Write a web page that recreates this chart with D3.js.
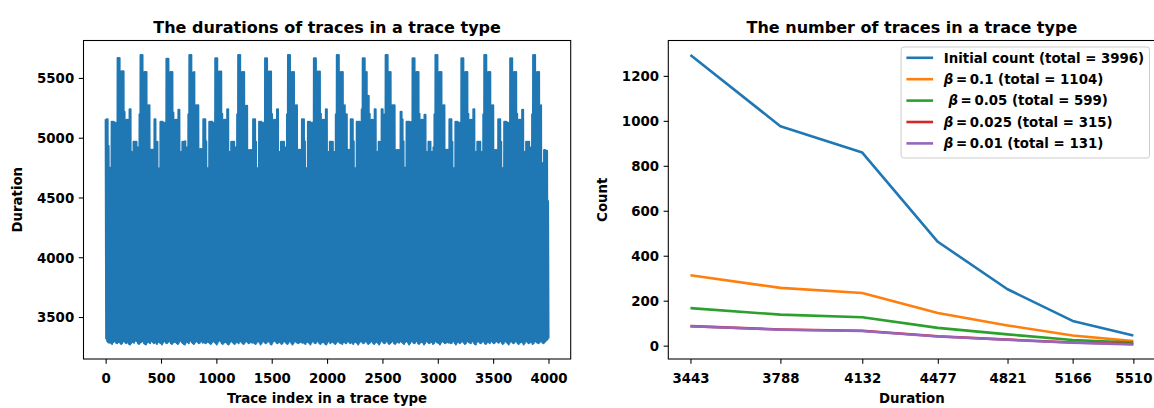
<!DOCTYPE html>
<html><head><meta charset="utf-8">
<script src="https://cdn.jsdelivr.net/npm/d3@7"></script>
<style>
body{margin:0;background:#fff;}
svg text{font-family:"DejaVu Sans";font-weight:bold;fill:#000;font-size:13.33px;}
</style></head><body>
<svg id="c" width="1154" height="408"></svg>
<script>
// ---------- Left chart: per-sample (every 9 traces) upper and lower durations ----------
const traceStep = 9;
const durationTops = [
5155,5155,5155,4933,4750,4747,5133,5133,5133,5128,5016,5128,5667,5667,5667,5350,5556,5556,5556,5217,4480,
5150,5150,5150,5239,5239,4883,4883,4966,4966,4966,4966,4920,4920,5197,5692,5692,5692,5272,5550,5550,5550,5272,5272,5272,4789,4900,4900,4900,
5155,5155,4967,4967,4745,4745,5133,5133,5133,5128,5016,5128,5661,5661,5661,5350,5550,5550,5550,5211,4470,
5150,5150,5150,5233,5233,4883,4883,4966,4966,4966,4970,4920,4920,5197,5692,5692,5692,5545,5545,5550,5272,5272,5272,5272,4789,4906,4906,4906,
5155,5155,5155,4970,4747,4747,5133,5133,5133,5133,5016,5128,5664,5664,5664,5350,5553,5553,5553,5200,4490,
5150,5150,5150,5239,5239,4883,4883,4967,4967,4967,4967,4920,4920,5197,5692,5692,5692,5272,5550,5550,5550,5267,5267,5267,4789,4897,4897,4897,4897,
5155,5155,5155,4967,4747,4747,5133,5133,5133,5128,5016,5128,5664,5664,5664,5350,5553,5553,5553,5198,4480,
5150,5150,5150,5239,5239,4883,4883,4967,4967,4967,4967,4920,4920,5197,5692,5692,5692,5272,5550,5550,5550,5272,5272,5272,4789,4900,4900,4900,
5155,5155,5155,4970,4747,4747,5133,5133,5133,5128,5016,5128,5664,5664,5664,5350,5553,5553,5553,5200,4480,
5150,5150,5150,5239,5239,4883,4883,4966,4966,4966,4966,4883,4883,5197,5692,5692,5692,5272,5550,5550,5550,5272,5272,5197,5197,4900,4900,4900,
5155,5155,5155,4970,4747,4747,5133,5133,5133,5133,5016,5239,5664,5664,5664,5550,5550,5350,5350,5200,4470,
5150,5150,5150,5239,5239,4883,4883,4967,4967,4967,5239,5239,4920,5197,5692,5692,5692,5550,5550,5550,5272,5272,5272,5272,4789,4897,4897,4897,4897,
5217,5217,5155,4970,4750,4750,5133,5133,5133,5133,5016,5133,5664,5664,5664,5350,5550,5550,5550,5200,4480,
5150,5150,5150,5192,5192,4883,4883,4967,4967,4967,4883,4883,4920,5197,5692,5692,5692,5272,5550,5550,5550,5272,5272,5272,4789,4900,4900,4900,
5155,5155,5155,4967,4747,4747,5133,5133,5133,5128,5016,5128,5664,5664,5664,5350,5550,5550,5550,5200,4480,
5150,5150,5150,5239,5239,4883,4883,4967,4967,4967,4967,4883,4883,5197,5692,5692,5692,5272,5550,5550,5550,5272,5272,5272,4789,4897,4897,4897,
5155,5155,5155,4967,4747,4747,5133,5133,5133,5128,5016,5128,5664,5664,5664,5350,5550,5550,5550,5200,4480,
5150,5150,5150,5233,5233,4883,4883,4966,4966,4966,4966,4883,4920,5197,5692,5692,5692,5272,5550,5550,5550,5272,5272,4789,4789,4897,4897,4890,4890,
4470
];
const durationLows = [
3320,3300,3290,3285,3295,3280,3275,3290,3305,3295,3285,3280,3290,3300,3285,3275,3280,3295,3310,3290,3280,3300,3285,3275,3270,3280,3295,3290,3285,3300,3310,3295,3280,3275,3285,3290,3305,3295,3280,3275,3270,3285,3300,3290,3280,3295,3310,3290,3280,
3290,3285,3275,3290,3300,3285,3280,3270,3285,3300,3295,3285,3280,3290,3310,3295,3280,3275,3285,3290,3300,3290,3280,3275,3285,3300,3310,3290,3280,3275,3270,3285,3295,3290,3280,3300,3305,3290,3280,3275,3285,3295,3300,3290,3280,3285,3305,3295,3285,
3295,3285,3280,3290,3305,3290,3280,3275,3285,3295,3300,3290,3280,3270,3285,3300,3310,3295,3280,3275,3285,3290,3300,3285,3275,3270,3285,3295,3305,3290,3280,3275,3285,3300,3290,3280,3295,3310,3290,3280,3275,3285,3295,3300,3290,3280,3285,3300,3290,3285,
3290,3280,3275,3285,3300,3295,3285,3270,3280,3295,3305,3290,3280,3285,3295,3300,3290,3275,3270,3285,3300,3310,3295,3285,3280,3290,3300,3285,3275,3280,3295,3305,3290,3280,3275,3285,3300,3295,3280,3270,3280,3295,3310,3290,3285,3280,3290,3300,3290,
3285,3295,3280,3275,3290,3305,3290,3280,3270,3285,3300,3295,3285,3280,3290,3310,3295,3280,3275,3285,3290,3300,3285,3275,3270,3285,3300,3295,3280,3290,3305,3290,3280,3275,3285,3295,3310,3290,3280,3285,3275,3290,3300,3285,3280,3295,3305,3290,3280,
3295,3285,3275,3290,3300,3290,3280,3270,3285,3295,3310,3290,3280,3285,3295,3300,3285,3275,3280,3290,3305,3295,3280,3275,3285,3300,3290,3280,3270,3285,3300,3310,3290,3280,3285,3295,3300,3285,3275,3280,3290,3305,3295,3280,3275,3285,3300,3290,3285,3295,
3300,3290,3280,3275,3290,3305,3295,3285,3270,3280,3295,3300,3290,3280,3285,3310,3295,3280,3275,3285,3290,3300,3285,3270,3280,3295,3305,3290,3280,3285,3300,3290,3275,3280,3295,3310,3290,3285,3280,3270,3285,3295,3300,3290,3280,3285,3305,3290,3285,
3290,3280,3285,3300,3295,3280,3270,3285,3300,3290,3280,3290,3305,3295,3285,3275,3280,3295,3310,3290,3285,3280,3295,3300,3285,3275,3270,3290,3300,3295,3285,3280,3290,3305,3295,3280,3275,3285,3300,3290,3280,3295,3310,3290,3280,3285,3295,3300,3290,
3285,3295,3300,3285,3275,3280,3295,3305,3290,3280,3270,3285,3300,3295,3285,3280,3290,3310,3295,3280,3275,3285,3290,3300,3285,3270,3280,3295,3305,3290,3280,3285,3300,3290,3275,3280,3295,3310,3290,3285,3280,3290,3300,3295,3285,3280,3290,3300,3305,3315,
3320
];
const leftXTicks = [0,500,1000,1500,2000,2500,3000,3500,4000];
const leftYTicks = [3500,4000,4500,5000,5500];

// ---------- Right chart ----------
const durationBins = [3443, 3788, 4132, 4477, 4821, 5166, 5510];
const initialCount = [1293, 976, 859, 462, 251, 110, 45];
const beta01Count  = [313, 257, 234, 145, 90, 45, 20];
const beta005Count = [167, 138, 126, 79, 50, 25, 14];
const beta0025Count= [87, 72, 66, 42, 27, 14, 7];
const beta001Count = [86, 71, 65, 41, 26, 13, 5];
const rightYTicks = [0,200,400,600,800,1000,1200];
const seriesLabels = [
  {pre:"", text:"Initial count (total = 3996)"},
  {pre:"", beta:"0.1", text:" (total = 1104)"},
  {pre:" ", beta:"0.05", text:" (total = 599)"},
  {pre:"", beta:"0.025", text:" (total = 315)"},
  {pre:"", beta:"0.01", text:" (total = 131)"}
];
const seriesColors = ["#1f77b4","#ff7f0e","#2ca02c","#d62728","#9467bd"];
const seriesValues = [initialCount, beta01Count, beta005Count, beta0025Count, beta001Count];

// ---------- layout ----------
const svg = d3.select("#c");
const top0 = 40.5, bot0 = 359;
const L = {x0:83.5, x1:570.7};
const R = {x0:668.3, x1:1155.5};
const tickLen = 4.67, tickPad = 4.67;

function frame(p){
  svg.append("rect").attr("x",p.x0).attr("y",top0).attr("width",p.x1-p.x0).attr("height",bot0-top0)
    .attr("fill","none").attr("stroke","#000").attr("stroke-width",1.07);
}
function styleAxis(g){
  g.attr("font-family",null).attr("font-size",null);
  g.select(".domain").remove();
  g.selectAll(".tick line").attr("stroke","#000").attr("stroke-width",1.07);
}

// ---------- left chart ----------
const n = Math.min(durationTops.length, durationLows.length);
const pts = [];
for(let k=0;k<n;k++){
  pts.push([k*traceStep, durationTops[k]]);
  pts.push([k*traceStep+traceStep/2, durationLows[k]]);
}
const xe = d3.extent(pts, d=>d[0]), ye = d3.extent(pts, d=>d[1]);
const xp = (xe[1]-xe[0])*0.05, yp = (ye[1]-ye[0])*0.05;
const xL = d3.scaleLinear().domain([xe[0]-xp, xe[1]+xp]).range([L.x0, L.x1]);
const yL = d3.scaleLinear().domain([ye[0]-yp, ye[1]+yp]).range([bot0, top0]);

svg.append("path").datum(pts)
  .attr("d", d3.line().x(d=>xL(d[0])).y(d=>yL(d[1])))
  .attr("fill","none").attr("stroke","#1f77b4").attr("stroke-width",2).attr("stroke-linejoin","round");

frame(L);
const gxL = svg.append("g").attr("transform",`translate(0,${bot0})`)
  .call(d3.axisBottom(xL).tickValues(leftXTicks).tickFormat(d3.format("d")).tickSize(tickLen).tickPadding(tickPad).tickSizeOuter(0));
styleAxis(gxL);
gxL.selectAll(".tick text").attr("y",24).attr("dy",0);
const gyL = svg.append("g").attr("transform",`translate(${L.x0},0)`)
  .call(d3.axisLeft(yL).tickValues(leftYTicks).tickFormat(d3.format("d")).tickSize(tickLen).tickPadding(tickPad).tickSizeOuter(0));
styleAxis(gyL);
gyL.selectAll(".tick text").attr("dy","0.36em");

svg.append("text").attr("x",(L.x0+L.x1)/2).attr("y",32.5).attr("text-anchor","middle").style("font-size","16px")
  .text("The durations of traces in a trace type");
svg.append("text").attr("x",(L.x0+L.x1)/2).attr("y",403).attr("text-anchor","middle")
  .text("Trace index in a trace type");
svg.append("text").attr("transform",`translate(22,${(top0+bot0)/2}) rotate(-90)`).attr("text-anchor","middle")
  .text("Duration");

// ---------- right chart ----------
const be = d3.extent(durationBins);
const lr = Math.pow(be[1]/be[0], 0.05);
const xR = d3.scaleLog().domain([be[0]/lr, be[1]*lr]).range([R.x0, R.x1]);
const allV = seriesValues.flat();
const ve = d3.extent(allV); const vp = (ve[1]-ve[0])*0.05;
const yR = d3.scaleLinear().domain([ve[0]-vp, ve[1]+vp]).range([bot0, top0]);

const line = d3.line().x((d,i)=>xR(durationBins[i])).y(d=>yR(d));
seriesValues.forEach((vals,si)=>{
  svg.append("path").datum(vals).attr("d", line)
    .attr("fill","none").attr("stroke",seriesColors[si]).attr("stroke-width",2.6).attr("stroke-linejoin","round").attr("stroke-linecap","butt");
});

frame(R);
const gxR = svg.append("g").attr("transform",`translate(0,${bot0})`)
  .call(d3.axisBottom(xR).tickValues(durationBins).tickFormat(d3.format("d")).tickSize(tickLen).tickPadding(tickPad).tickSizeOuter(0));
styleAxis(gxR);
gxR.selectAll(".tick text").attr("y",24).attr("dy",0);
const gyR = svg.append("g").attr("transform",`translate(${R.x0},0)`)
  .call(d3.axisLeft(yR).tickValues(rightYTicks).tickFormat(d3.format("d")).tickSize(tickLen).tickPadding(tickPad).tickSizeOuter(0));
styleAxis(gyR);
gyR.selectAll(".tick text").attr("dy","0.36em");

svg.append("text").attr("x",(R.x0+R.x1)/2).attr("y",32.5).attr("text-anchor","middle").style("font-size","16px")
  .text("The number of traces in a trace type");
svg.append("text").attr("x",(R.x0+R.x1)/2).attr("y",403).attr("text-anchor","middle")
  .text("Duration");
svg.append("text").attr("transform",`translate(607,${(top0+bot0)/2}) rotate(-90)`).attr("text-anchor","middle")
  .text("Count");

// ---------- legend ----------
const lg = svg.append("g");
const lgRight = 1149.5, lgTop = 47;
const rowH = 21.4, handleL = 26.7, textPad = 10.7, bpad = 5.3;
const lgRect = lg.append("rect").attr("rx",2.7).attr("ry",2.7)
  .attr("fill","#fff").attr("fill-opacity",0.8).attr("stroke","#ccc").attr("stroke-width",1);
const texts = [];
seriesLabels.forEach((lab,i)=>{
  const cy = lgTop + 10.8 + i*rowH;
  lg.append("line").attr("stroke",seriesColors[i]).attr("stroke-width",2.6)
    .attr("y1",cy).attr("y2",cy).attr("class","h");
  const t = lg.append("text").attr("y",cy).attr("dy","0.36em");
  if(lab.beta){
    t.append("tspan").attr("dx", lab.pre ? 4.6 : 0).style("font-style","italic").text("β");
    t.append("tspan").text("\u2009=\u2009" + lab.beta);
    t.append("tspan").text(lab.text);
  } else {
    t.text(lab.text);
  }
  texts.push(t);
});
const maxW = d3.max(texts, t=>t.node().getComputedTextLength() + (t.select("tspan").empty()?0:+t.select("tspan").attr("dx")||0));
const lgW = bpad + handleL + textPad + maxW + bpad;
const lgLeft = lgRight - lgW;
lgRect.attr("x",lgLeft).attr("y",lgTop).attr("width",lgW).attr("height",5*rowH + 4);
lg.selectAll("line.h").attr("x1",lgLeft+bpad).attr("x2",lgLeft+bpad+handleL);
texts.forEach(t=>t.attr("x",lgLeft+bpad+handleL+textPad));
</script>
</body></html>
